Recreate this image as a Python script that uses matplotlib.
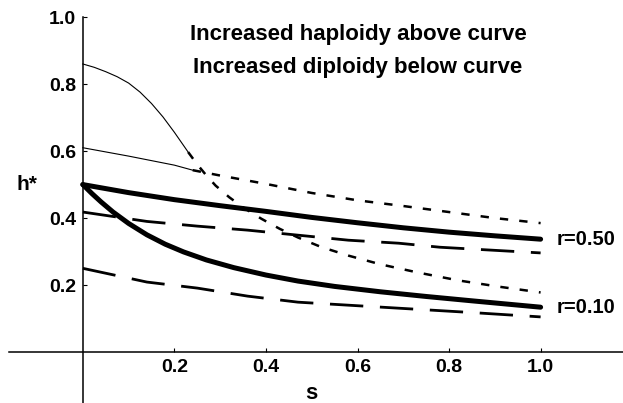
import numpy as np
import matplotlib
matplotlib.use("Agg")
import matplotlib.pyplot as plt

plt.rcParams['font.family'] = ['Liberation Sans', 'DejaVu Sans']
plt.rcParams['font.weight'] = 'bold'
plt.rcParams['lines.scale_dashes'] = False

# thick solid curves
r50_s = [0, 0.1, 0.2, 0.3, 0.4, 0.5, 0.6, 0.7, 0.8, 0.9, 1.0]
r50_h = [0.5, 0.476, 0.455, 0.437, 0.42, 0.402, 0.386, 0.371, 0.358, 0.347, 0.337]
r10_s = [0, 0.02, 0.04, 0.066, 0.1, 0.14, 0.18, 0.22, 0.27, 0.33, 0.4, 0.47, 0.55, 0.65, 0.75, 0.85, 1.0]
r10_h = [0.5, 0.473, 0.448, 0.418, 0.384, 0.35, 0.322, 0.299, 0.275, 0.252, 0.23, 0.212,
         0.196, 0.18, 0.166, 0.153, 0.134]

# long dashed curves
ld_hi_s = [0, 0.14, 0.25, 0.36, 0.58, 0.69, 0.78, 1.0]
ld_hi_h = [0.418, 0.39, 0.376, 0.364, 0.334, 0.325, 0.313, 0.296]
ld_lo_s = [0, 0.14, 0.25, 0.36, 0.47, 0.58, 0.69, 0.85, 1.0]
ld_lo_h = [0.25, 0.209, 0.191, 0.167, 0.149, 0.14, 0.131, 0.118, 0.105]

# thin solid then short dashed curves
up_solid_s = [0, 0.025, 0.05, 0.075, 0.1, 0.125, 0.15, 0.175, 0.2, 0.23]
up_solid_h = [0.86, 0.85, 0.837, 0.822, 0.803, 0.776, 0.742, 0.702, 0.656, 0.597]
up_dash_s = [0.23, 0.25, 0.27, 0.29, 0.32, 0.35, 0.39, 0.43, 0.47, 0.52, 0.58, 0.65, 0.73, 0.82, 0.91, 1.0]
up_dash_h = [0.597, 0.56, 0.527, 0.497, 0.462, 0.432, 0.398, 0.368, 0.342, 0.314, 0.288,
             0.262, 0.238, 0.214, 0.195, 0.178]
lo_solid_s = [0, 0.1, 0.2, 0.24]
lo_solid_h = [0.61, 0.585, 0.558, 0.543]
lo_dash_s = [0.24, 0.3, 0.4, 0.5, 0.6, 0.7, 0.8, 0.9, 1.0]
lo_dash_h = [0.543, 0.527, 0.502, 0.475, 0.453, 0.436, 0.418, 0.40, 0.385]

yticks = [0.2, 0.4, 0.6, 0.8, 1.0]
xticks = [0.2, 0.4, 0.6, 0.8, 1.0]

fig = plt.figure(figsize=(6.23, 4.03), dpi=100)
ax = fig.add_axes([0, 0, 1, 1])
ax.set_xlim(-0.181, 1.180)
ax.set_ylim(-0.152, 1.051)

ax.plot(r50_s, r50_h, color='black', lw=3.6, solid_capstyle='round')
ax.plot(r10_s, r10_h, color='black', lw=3.6, solid_capstyle='round')
ax.plot(ld_hi_s, ld_hi_h, color='black', lw=2.0, dashes=(24, 12))
ax.plot(ld_lo_s, ld_lo_h, color='black', lw=2.0, dashes=(24, 12))
ax.plot(up_solid_s, up_solid_h, color='black', lw=0.8)
ax.plot(lo_solid_s, lo_solid_h, color='black', lw=0.8)
ax.plot(up_dash_s, up_dash_h, color='black', lw=1.8, dashes=(6, 8))
ax.plot(lo_dash_s, lo_dash_h, color='black', lw=1.8, dashes=(6, 8))

for sp in ['top', 'right']:
    ax.spines[sp].set_visible(False)
ax.spines['left'].set_position(('data', 0))
ax.spines['bottom'].set_position(('data', 0))
ax.spines['left'].set_bounds(-0.152, 1.0)
ax.spines['bottom'].set_bounds(-0.162, 1.180)
ax.spines['left'].set_linewidth(1.1)
ax.spines['bottom'].set_linewidth(1.1)

ax.set_xticks(xticks)
ax.set_yticks(yticks)
ax.set_xticklabels(['%.1f' % v for v in xticks])
ax.set_yticklabels(['%.1f' % v for v in yticks])
ax.tick_params(direction='in', length=3, width=0.8, labelsize=14, pad=5)

ax.text(-0.122, 0.5, 'h*', fontsize=15, fontweight='bold', ha='center', va='center')
ax.text(0.5, -0.125, 's', fontsize=16, fontweight='bold', ha='center', va='center')
ax.text(1.036, 0.337, 'r=0.50', fontsize=14.5, fontweight='bold', ha='left', va='center')
ax.text(1.036, 0.134, 'r=0.10', fontsize=14.5, fontweight='bold', ha='left', va='center')
ax.text(0.601, 0.931, 'Increased haploidy above curve', fontsize=16, fontweight='bold',
        ha='center', va='baseline')
ax.text(0.601, 0.833, 'Increased diploidy below curve', fontsize=16, fontweight='bold',
        ha='center', va='baseline')

fig.savefig('out.png', dpi=100)
